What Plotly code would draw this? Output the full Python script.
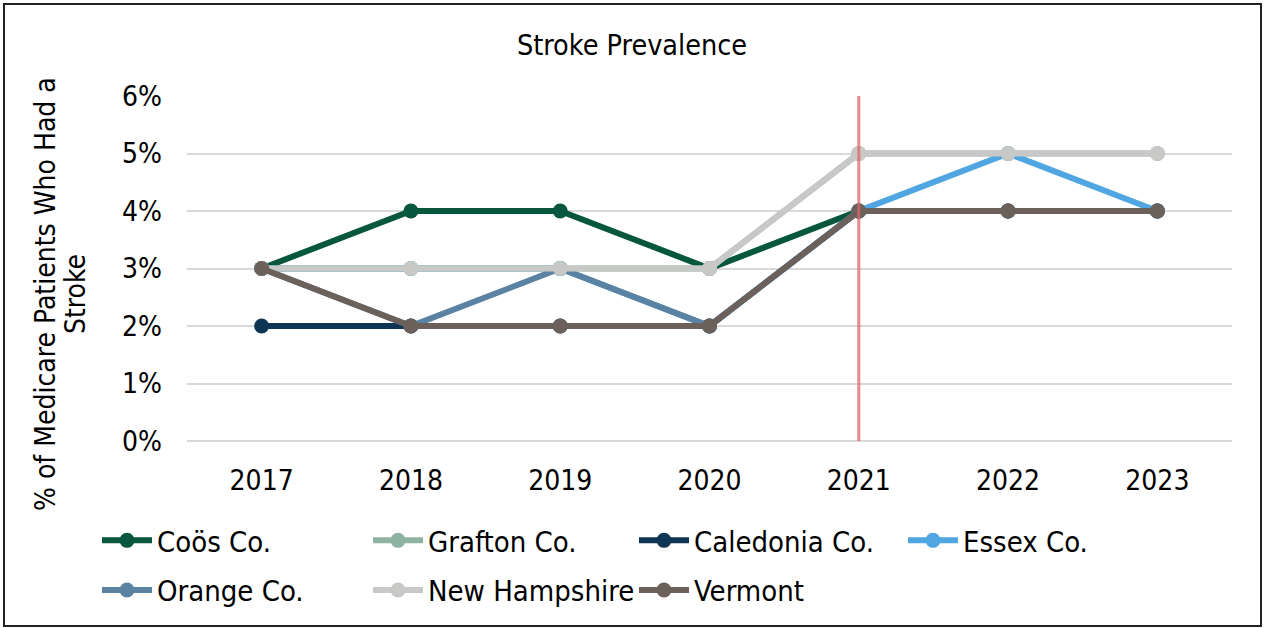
from plotly import graph_objects as go

# ---------------------- data ----------------------
years = ["2017", "2018", "2019", "2020", "2021", "2022", "2023"]

coos = [0.03, 0.04, 0.04, 0.03, 0.04, 0.04, 0.04]
grafton = [0.03, 0.03, 0.03, 0.03, 0.05, 0.05, 0.05]
caledonia = [0.02, 0.02, 0.02, 0.02, 0.04, 0.04, 0.04]
essex = [0.03, 0.03, 0.03, 0.02, 0.04, 0.05, 0.04]
orange = [0.03, 0.02, 0.03, 0.02, 0.04, 0.04, 0.04]
new_hampshire = [0.03, 0.03, 0.03, 0.03, 0.05, 0.05, 0.05]
vermont = [0.03, 0.02, 0.02, 0.02, 0.04, 0.04, 0.04]

marker_year = "2021"

series = [
    ("Coös Co.", coos, "#06573d", "legend"),
    ("Grafton Co.", grafton, "#8fb3a3", "legend2"),
    ("Caledonia Co.", caledonia, "#0e3553", "legend3"),
    ("Essex Co.", essex, "#4fa6e0", "legend4"),
    ("Orange Co.", orange, "#5a82a3", "legend"),
    ("New Hampshire", new_hampshire, "#c8c9c6", "legend2"),
    ("Vermont", vermont, "#6b615a", "legend3"),
]

FONT = "DejaVu Sans Condensed, Liberation Sans, sans-serif"
W, H = 1264, 628
L, R, T, B = 187, 32, 96, 187
pw, ph = W - L - R, H - T - B


def px_x(px):
    return (px - L) / pw


def px_y(py):
    return (H - B - py) / ph


fig = go.Figure()
for name, vals, color, leg in series:
    fig.add_trace(go.Scatter(
        x=years, y=vals, name=name, mode="lines+markers",
        line=dict(color=color, width=6),
        marker=dict(color=color, size=15),
        legend=leg, legendgroup=name,
    ))

# vertical reference line at the marker year
mx = years.index(marker_year)
fig.add_shape(type="line", xref="x", yref="paper", x0=mx, x1=mx,
              y0=0, y1=1, line=dict(color="rgba(222,100,100,0.75)", width=3), layer="above")

# outer border
fig.add_shape(type="rect", xref="paper", yref="paper",
              x0=px_x(4), x1=px_x(1261), y0=px_y(626), y1=px_y(4),
              line=dict(color="#222222", width=2))

# y axis title, two lines placed separately
for txt, cx in [("% of Medicare Patients Who Had a", 45), ("Stroke", 75)]:
    fig.add_annotation(text=txt, xref="paper", yref="paper", x=px_x(cx), y=px_y(294),
                       xanchor="center", yanchor="middle", textangle=-90,
                       showarrow=False, font=dict(size=28, color="#000000", family=FONT))

legend_base = dict(orientation="v", xanchor="left", yanchor="top", bgcolor="rgba(0,0,0,0)",
                   font=dict(size=29, color="#000000", family=FONT),
                   traceorder="grouped", tracegroupgap=9, itemwidth=50)
leg_y = px_y(515)

fig.update_layout(
    width=W, height=H,
    margin=dict(l=L, r=R, t=T, b=B, autoexpand=False),
    paper_bgcolor="white", plot_bgcolor="white",
    font=dict(family=FONT, color="#000000"),
    title=dict(text="Stroke Prevalence", x=0.5, xref="container", xanchor="center",
               y=1 - 45 / H, yref="container", yanchor="middle",
               font=dict(size=28.5, color="#000000", family=FONT)),
    xaxis=dict(type="category", range=[-0.5, 6.5], showgrid=False, zeroline=False,
               showline=False, ticks="", tickfont=dict(size=28), ticklabelstandoff=20),
    yaxis=dict(range=[0, 0.06], dtick=0.01, tickformat=".0%", showgrid=True,
               gridcolor="#d9d9d9", gridwidth=2, zeroline=True, zerolinecolor="#d9d9d9",
               zerolinewidth=2, showline=False, ticks="", tickfont=dict(size=28),
               ticklabelstandoff=24),
    legend=dict(legend_base, x=px_x(97), y=leg_y),
    legend2=dict(legend_base, x=px_x(368), y=leg_y),
    legend3=dict(legend_base, x=px_x(634), y=leg_y),
    legend4=dict(legend_base, x=px_x(903), y=leg_y),
    showlegend=True,
)

fig.write_html("out.html", config={"displayModeBar": False},
               post_script="document.body.style.margin='0';")
